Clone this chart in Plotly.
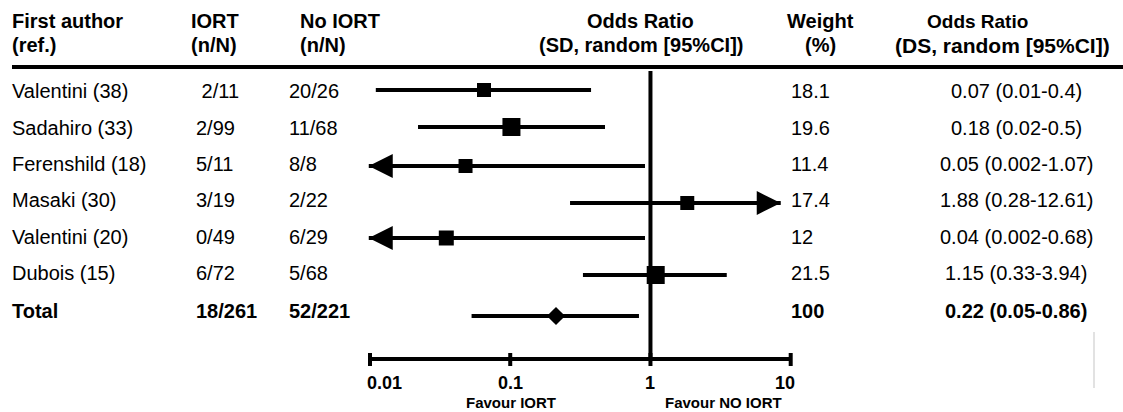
import math
import plotly.graph_objects as go

W, H = 1123, 412
FONT = "Arial, 'Liberation Sans', sans-serif"

# ---------------- data ----------------
authors = ["Valentini (38)", "Sadahiro (33)", "Ferenshild (18)", "Masaki (30)",
           "Valentini (20)", "Dubois (15)"]
iort = ["\u00a02/11", "2/99", "5/11", "3/19", "0/49", "6/72"]
no_iort = ["20/26", "11/68", "8/8", "2/22", "6/29", "5/68"]
weights = ["18.1", "19.6", "11.4", "17.4", "12", "21.5"]
or_labels = ["0.07 (0.01-0.4)", "0.18 (0.02-0.5)", "0.05 (0.002-1.07)",
             "1.88 (0.28-12.61)", "0.04 (0.002-0.68)", "1.15 (0.33-3.94)"]
total_row = ["Total", "18/261", "52/221", "100", "0.22 (0.05-0.86)"]

# plotted odds ratios / CI as drawn in the figure
or_point = [0.065, 0.102, 0.048, 1.83, 0.035, 1.09]
ci_low = [0.011, 0.022, 0.0098, 0.267, 0.0098, 0.33]
ci_high = [0.377, 0.474, 0.914, 8.49, 0.914, 3.5]
arrow_low = [False, False, True, False, True, False]
arrow_high = [False, False, False, True, False, False]
total_point, total_low, total_high = 0.212, 0.053, 0.828

tick_vals = [0.01, 0.1, 1, 10]
tick_text = ["0.01", "0.1", "1", "10"]

# ---------------- layout / style (pixels) ----------------
mark_rows = [90, 127, 166, 203, 238, 275]
total_mark_row = 316
text_rows = [91, 128, 163.5, 200, 237, 272.5]
total_text_row = 311
square_sizes = [14, 18, 14, 14, 15, 18]

X0PX, X1PX = 370.0, 790.7          # pixel positions of 0.01 and 10
DEC = (X1PX - X0PX) / 3.0
PAD = 0.12
AXIS_Y = 359
VLINE_TOP = 71

fig = go.Figure()

# CI lines
lx, ly = [], []
for lo, hi, r in zip(ci_low, ci_high, mark_rows):
    lx += [lo, hi, None]
    ly += [r, r, None]
lx += [total_low, total_high, None]
ly += [total_mark_row, total_mark_row, None]
fig.add_trace(go.Scatter(x=lx, y=ly, mode="lines", line=dict(color="black", width=4),
                         hoverinfo="skip"))

# vertical line at OR = 1
fig.add_trace(go.Scatter(x=[1, 1], y=[VLINE_TOP, AXIS_Y], mode="lines",
                         line=dict(color="black", width=4), hoverinfo="skip"))

# x axis line and ticks
tx, ty = [tick_vals[0], tick_vals[-1], None], [AXIS_Y, AXIS_Y, None]
for v in tick_vals:
    tx += [v, v, None]
    ty += [AXIS_Y - 6, AXIS_Y + 7, None]
fig.add_trace(go.Scatter(x=tx, y=ty, mode="lines", line=dict(color="black", width=4),
                         hoverinfo="skip"))

# study squares
fig.add_trace(go.Scatter(x=or_point, y=mark_rows, mode="markers", cliponaxis=False,
                         marker=dict(symbol="square", size=square_sizes, color="black",
                                     opacity=1, line=dict(width=0))))

# arrows for truncated CIs
al = [(lo, r) for lo, r, a in zip(ci_low, mark_rows, arrow_low) if a]
ah = [(hi, r) for hi, r, a in zip(ci_high, mark_rows, arrow_high) if a]
fig.add_trace(go.Scatter(x=[p[0] for p in al], y=[p[1] for p in al], mode="markers",
                         cliponaxis=False,
                         marker=dict(symbol="arrow-left", size=24, color="black",
                                     opacity=1, line=dict(width=0))))
fig.add_trace(go.Scatter(x=[p[0] for p in ah], y=[p[1] for p in ah], mode="markers",
                         cliponaxis=False,
                         marker=dict(symbol="arrow-right", size=24, color="black",
                                     opacity=1, line=dict(width=0))))

# total diamond
fig.add_trace(go.Scatter(x=[total_point], y=[total_mark_row], mode="markers",
                         cliponaxis=False,
                         marker=dict(symbol="diamond", size=14, color="black",
                                     opacity=1, line=dict(width=0))))

ann = []


def txt(s, xpx, y, anchor="left", size=20, bold=False):
    ann.append(dict(text=f"<b>{s}</b>" if bold else s, x=xpx / W, xref="paper",
                    y=y, yref="y", xanchor=anchor, yanchor="middle", showarrow=False,
                    borderpad=0, borderwidth=0,
                    font=dict(size=size, color="black", family=FONT)))


# headers
H1, H2 = 21, 45
txt("First author", 12, H1, bold=True)
txt("(ref.)", 12, H2, bold=True)
txt("IORT", 191, H1, bold=True)
txt("(n/N)", 191, H2, bold=True)
txt("No IORT", 299.5, H1, bold=True)
txt("(n/N)", 299.5, H2, bold=True)
txt("Odds Ratio", 640, H1, "center", bold=True)
txt("(SD, random [95%CI])", 641, H2, "center", bold=True)
txt("Weight", 820, H1, "center", bold=True)
txt("(%)", 820, H2, "center", bold=True)
txt("Odds Ratio", 977, H1, "center", size=19, bold=True)
txt("(DS, random [95%CI])", 1002, H2, "center", size=21, bold=True)

# study rows
for i, r in enumerate(text_rows):
    txt(authors[i], 12, r)
    txt(iort[i], 196, r)
    txt(no_iort[i], 289, r)
    txt(weights[i], 791, r)
    txt(or_labels[i], 1016, r, "center")

# total row
txt(total_row[0], 12, total_text_row, bold=True)
txt(total_row[1], 196, total_text_row, bold=True)
txt(total_row[2], 289, total_text_row, bold=True)
txt(total_row[3], 791, total_text_row, bold=True)
txt(total_row[4], 1016, total_text_row, "center", bold=True)

# tick labels (annotation x on log axes is given in log10 units)
anchors = ["left", "center", "center", "right"]
for v, t, a in zip(tick_vals, tick_text, anchors):
    ann.append(dict(text=f"<b>{t}</b>", x=math.log10(v) + (-0.02 if a == "left" else 0.03 if a == "right" else 0),
                    xref="x", y=383, yref="y",
                    xanchor=a, yanchor="middle", showarrow=False, borderpad=0, borderwidth=0,
                    font=dict(size=18, color="black", family=FONT)))

txt("Favour IORT", 511, 402, "center", size=15, bold=True)
txt("Favour NO IORT", 723, 402, "center", size=15, bold=True)

shapes = [
    dict(type="line", xref="paper", yref="y", x0=12 / W, x1=1, y0=67, y1=67,
         line=dict(color="black", width=4)),
    dict(type="line", xref="paper", yref="y", x0=1094 / W, x1=1094 / W, y0=332, y1=388,
         line=dict(color="#e2e2e2", width=2)),
]

fig.update_layout(
    width=W, height=H, margin=dict(l=0, r=0, t=0, b=0),
    paper_bgcolor="white", plot_bgcolor="white", showlegend=False,
    xaxis=dict(type="log", range=[-2 - PAD, 1 + PAD],
               domain=[(X0PX - PAD * DEC) / W, (X1PX + PAD * DEC) / W],
               visible=False, fixedrange=True),
    yaxis=dict(range=[H, 0], domain=[0, 1], visible=False, fixedrange=True),
    annotations=ann, shapes=shapes,
)

fig.write_html("out.html")
